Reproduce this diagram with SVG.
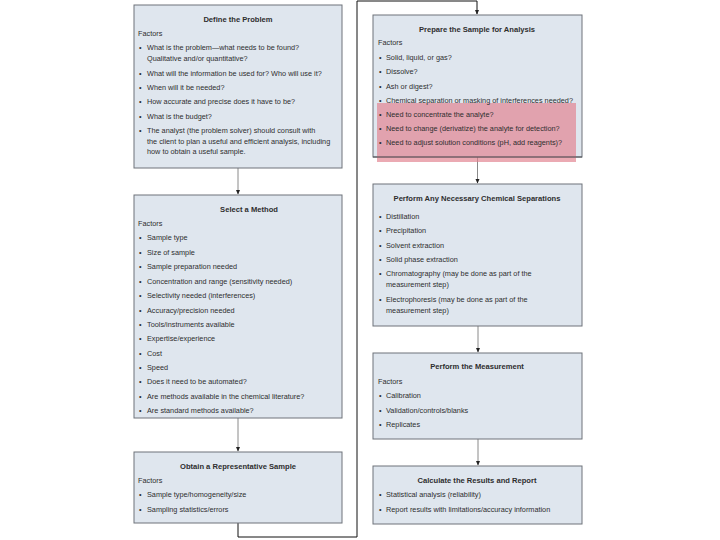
<svg xmlns="http://www.w3.org/2000/svg" width="720" height="540" viewBox="0 0 720 540">
<defs>
<marker id="ah" markerWidth="5" markerHeight="5" refX="4" refY="2.5" orient="auto" markerUnits="userSpaceOnUse">
<path d="M0,0.5 L4.5,2.5 L0,4.5 Z" fill="#222"/>
</marker>
<style>
.box{fill:#dfe6ee;stroke:#6e737a;stroke-width:1}
text{font-family:"Liberation Sans",Arial,sans-serif;fill:#2e2e2e;font-size:7.3px}
.t{font-weight:bold;font-size:7.6px;text-anchor:middle}
.b{font-size:7.3px}
.arr{fill:none;stroke:#8a8a8a;stroke-width:1;marker-end:url(#ah)}
.main{fill:none;stroke:#111;stroke-width:1;marker-end:url(#ah)}
</style>
</defs>
<rect width="720" height="540" fill="#fff"/>
<g id="connectors">
<path class="arr" d="M238,168 V194"/>
<path class="arr" d="M238,418 V451"/>
<path class="main" d="M238,523 V537 H357 V1 H477 V14"/>
<path class="arr" d="M477.5,157 V183"/>
<path class="arr" d="M478,326 V352"/>
<path class="arr" d="M478,439 V465"/>
</g>
<g id="define">
<rect class="box" x="134" y="5" width="208" height="163"/>
<text class="t" x="238" y="22">Define the Problem</text>
<text x="138" y="36">Factors</text>
<text class="b" x="139" y="50">•</text><text x="147" y="50">What is the problem—what needs to be found?</text>
<text x="147" y="61">Qualitative and/or quantitative?</text>
<text class="b" x="139" y="76">•</text><text x="147" y="76">What will the information be used for? Who will use it?</text>
<text class="b" x="139" y="90">•</text><text x="147" y="90">When will it be needed?</text>
<text class="b" x="139" y="104">•</text><text x="147" y="104">How accurate and precise does it have to be?</text>
<text class="b" x="139" y="119">•</text><text x="147" y="119">What is the budget?</text>
<text class="b" x="139" y="133">•</text><text x="147" y="133">The analyst (the problem solver) should consult with</text>
<text x="147" y="144">the client to plan a useful and efficient analysis, including</text>
<text x="147" y="154">how to obtain a useful sample.</text>
</g>
<g id="select">
<rect class="box" x="134" y="195" width="208" height="223"/>
<text class="t" x="249" y="212">Select a Method</text>
<text x="138" y="226">Factors</text>
<text class="b" x="139" y="240">•</text><text x="147" y="240">Sample type</text>
<text class="b" x="139" y="255">•</text><text x="147" y="255">Size of sample</text>
<text class="b" x="139" y="269">•</text><text x="147" y="269">Sample preparation needed</text>
<text class="b" x="139" y="284">•</text><text x="147" y="284">Concentration and range (sensitivity needed)</text>
<text class="b" x="139" y="298">•</text><text x="147" y="298">Selectivity needed (interferences)</text>
<text class="b" x="139" y="313">•</text><text x="147" y="313">Accuracy/precision needed</text>
<text class="b" x="139" y="327">•</text><text x="147" y="327">Tools/instruments available</text>
<text class="b" x="139" y="341">•</text><text x="147" y="341">Expertise/experience</text>
<text class="b" x="139" y="356">•</text><text x="147" y="356">Cost</text>
<text class="b" x="139" y="370">•</text><text x="147" y="370">Speed</text>
<text class="b" x="139" y="384">•</text><text x="147" y="384">Does it need to be automated?</text>
<text class="b" x="139" y="399">•</text><text x="147" y="399">Are methods available in the chemical literature?</text>
<text class="b" x="139" y="413">•</text><text x="147" y="413">Are standard methods available?</text>
</g>
<g id="obtain">
<rect class="box" x="134" y="452" width="208" height="71"/>
<text class="t" x="238" y="469">Obtain a Representative Sample</text>
<text x="138" y="483">Factors</text>
<text class="b" x="139" y="497">•</text><text x="147" y="497">Sample type/homogeneity/size</text>
<text class="b" x="139" y="512">•</text><text x="147" y="512">Sampling statistics/errors</text>
</g>
<g id="prepare">
<rect class="box" x="373" y="15" width="209" height="142"/>
<rect x="377" y="103" width="199" height="59" fill="#e2828f" opacity="0.68"/>
<line x1="373" y1="157" x2="582" y2="157" stroke="#4a4e54" stroke-width="1"/>
<text class="t" x="477" y="32">Prepare the Sample for Analysis</text>
<text x="378" y="45">Factors</text>
<text class="b" x="379" y="60">•</text><text x="386" y="60">Solid, liquid, or gas?</text>
<text class="b" x="379" y="74">•</text><text x="386" y="74">Dissolve?</text>
<text class="b" x="379" y="89">•</text><text x="386" y="89">Ash or digest?</text>
<text class="b" x="379" y="103">•</text><text x="386" y="103">Chemical separation or masking of interferences needed?</text>
<text class="b" x="379" y="117">•</text><text x="386" y="117">Need to concentrate the analyte?</text>
<text class="b" x="379" y="131">•</text><text x="386" y="131">Need to change (derivatize) the analyte for detection?</text>
<text class="b" x="379" y="145">•</text><text x="386" y="145">Need to adjust solution conditions (pH, add reagents)?</text>
</g>
<g id="separations">
<rect class="box" x="373" y="184" width="209" height="142"/>
<text class="t" x="477" y="201">Perform Any Necessary Chemical Separations</text>
<text class="b" x="379" y="219">•</text><text x="386" y="219">Distillation</text>
<text class="b" x="379" y="233">•</text><text x="386" y="233">Precipitation</text>
<text class="b" x="379" y="248">•</text><text x="386" y="248">Solvent extraction</text>
<text class="b" x="379" y="262">•</text><text x="386" y="262">Solid phase extraction</text>
<text class="b" x="379" y="276">•</text><text x="386" y="276">Chromatography (may be done as part of the</text>
<text x="386" y="287">measurement step)</text>
<text class="b" x="379" y="302">•</text><text x="386" y="302">Electrophoresis (may be done as part of the</text>
<text x="386" y="313">measurement step)</text>
</g>
<g id="measurement">
<rect class="box" x="373" y="353" width="209" height="86"/>
<text class="t" x="477" y="369">Perform the Measurement</text>
<text x="378" y="384">Factors</text>
<text class="b" x="379" y="398">•</text><text x="386" y="398">Calibration</text>
<text class="b" x="379" y="413">•</text><text x="386" y="413">Validation/controls/blanks</text>
<text class="b" x="379" y="427">•</text><text x="386" y="427">Replicates</text>
</g>
<g id="calculate">
<rect class="box" x="373" y="466" width="209" height="58"/>
<text class="t" x="477" y="483">Calculate the Results and Report</text>
<text class="b" x="379" y="497">•</text><text x="386" y="497">Statistical analysis (reliability)</text>
<text class="b" x="379" y="512">•</text><text x="386" y="512">Report results with limitations/accuracy information</text>
</g>
</svg>
